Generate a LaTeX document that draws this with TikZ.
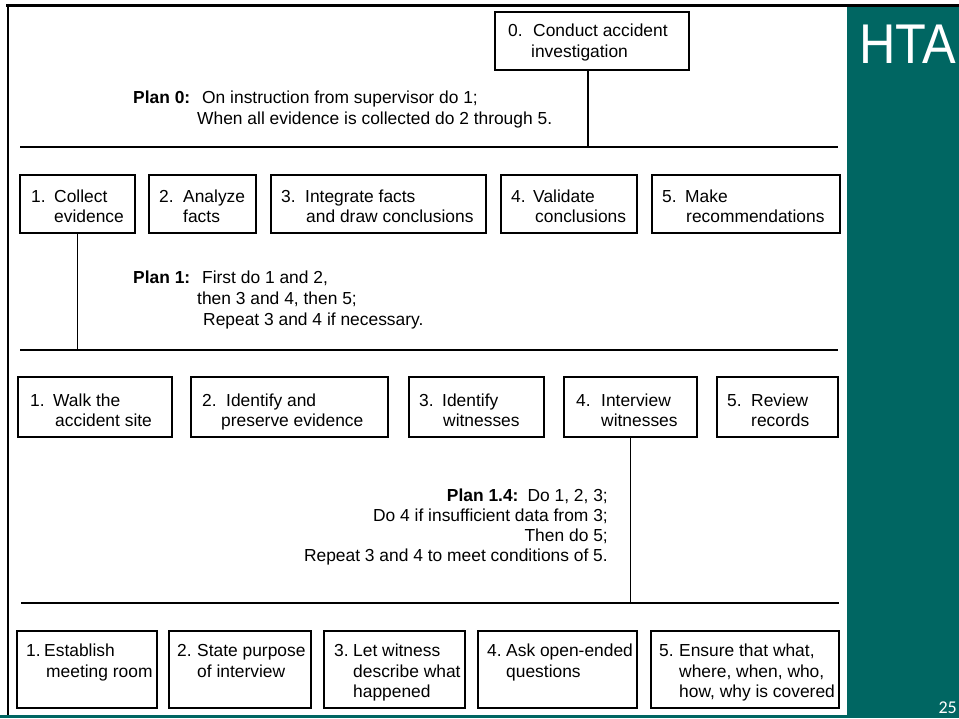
\documentclass[tikz,border=0pt]{standalone}
\usepackage{fontspec}
\usepackage{graphicx}
\setmainfont{Liberation Sans}
\newfontfamily\numfont{Carlito}
\usetikzlibrary{fit}
\definecolor{slideteal}{RGB}{0,102,98}
\newcommand\tl[4]{\node[tx] (#1) at (#2,#3) {#4};}
\begin{document}
\begin{tikzpicture}[x=1pt,y=-1pt,
  bx/.style={draw, line width=1.7pt, inner sep=0pt},
  bar/.style={line width=2.3pt},
  stem/.style={line width=1.4pt},
  tx/.style={inner sep=0pt, anchor=base west, font=\fontsize{17.4}{21}\selectfont},
  txr/.style={inner sep=0pt, anchor=base east, font=\fontsize{17.4}{21}\selectfont}]
\useasboundingbox (0,0) rectangle (959,718);
\fill[white] (0,0) rectangle (959,718);
% slide sidebar
\fill[slideteal] (847,7) rectangle (959,718);
\fill[slideteal] (0,715) rectangle (959,718);
\draw[line width=2.6pt] (6,5.5) -- (959,5.5);
\draw[line width=2pt] (7.5,5) -- (7.5,715);
\node[inner sep=0pt, anchor=base west, text=white, font=\fontsize{56}{60}\selectfont] (hta) at (859,63) {\scalebox{0.9}[1]{HTA}};
\node[inner sep=0pt, anchor=base east, text=white, font=\numfont\fontsize{18}{20}\selectfont] (pg) at (957,713) {25};

% ---------- level 0 ----------
\coordinate (c0a) at (495,12); \coordinate (c0b) at (689,70);
\node[bx, fit=(c0a)(c0b)] (b0) {};
\tl{b0n}{508}{36.5}{0.}
\tl{b0a}{533}{36.5}{Conduct accident}
\tl{b0b}{531}{57}{investigation}

\tl{p0h}{133}{103.5}{\textbf{Plan 0:}}
\tl{p0a}{202}{103.5}{On instruction from supervisor do 1;}
\tl{p0b}{197}{124.5}{When all evidence is collected do 2 through 5.}

\coordinate (h1L) at (20,147); \coordinate (h1R) at (838,147);
\coordinate (v0) at (588,147);
\draw[bar] (h1L) -- (h1R);
\draw[stem] (v0 |- b0.south) -- (v0);

% ---------- level 1 ----------
\coordinate (c11a) at (20,175);  \coordinate (c11b) at (135,233);
\coordinate (c12a) at (149,175); \coordinate (c12b) at (256,233);
\coordinate (c13a) at (271,175); \coordinate (c13b) at (486,233);
\coordinate (c14a) at (501,175); \coordinate (c14b) at (637,233);
\coordinate (c15a) at (652,175); \coordinate (c15b) at (840,233);
\node[bx, fit=(c11a)(c11b)] (b11) {};
\node[bx, fit=(c12a)(c12b)] (b12) {};
\node[bx, fit=(c13a)(c13b)] (b13) {};
\node[bx, fit=(c14a)(c14b)] (b14) {};
\node[bx, fit=(c15a)(c15b)] (b15) {};
\tl{b11n}{31}{202}{1.}   \tl{b11a}{54}{202}{Collect}   \tl{b11b}{54}{222}{evidence}
\tl{b12n}{159}{202}{2.}  \tl{b12a}{183}{202}{Analyze}  \tl{b12b}{183}{222}{facts}
\tl{b13n}{281}{202}{3.}  \tl{b13a}{305}{202}{Integrate facts} \tl{b13b}{306}{222}{and draw conclusions}
\tl{b14n}{511}{202}{4.}  \tl{b14a}{533}{202}{Validate} \tl{b14b}{535}{222}{conclusions}
\tl{b15n}{662}{202}{5.}  \tl{b15a}{685}{202}{Make}     \tl{b15b}{686}{222}{recommendations}

\tl{p1h}{133}{283.5}{\textbf{Plan 1:}}
\tl{p1a}{202}{283.5}{First do 1 and 2,}
\tl{p1b}{197}{304.5}{then 3 and 4, then 5;}
\tl{p1c}{203}{325.5}{Repeat 3 and 4 if necessary.}

\coordinate (h2L) at (20,350); \coordinate (h2R) at (838,350);
\draw[bar] (h2L) -- (h2R);
\draw[stem] (b11.south) -- (b11.south |- h2L);

% ---------- children of 1 ----------
\coordinate (c21a) at (18,377);  \coordinate (c21b) at (172,437);
\coordinate (c22a) at (191,377); \coordinate (c22b) at (388,437);
\coordinate (c23a) at (409,377); \coordinate (c23b) at (544,437);
\coordinate (c24a) at (564,377); \coordinate (c24b) at (697,437);
\coordinate (c25a) at (717,377); \coordinate (c25b) at (838,437);
\node[bx, fit=(c21a)(c21b)] (b21) {};
\node[bx, fit=(c22a)(c22b)] (b22) {};
\node[bx, fit=(c23a)(c23b)] (b23) {};
\node[bx, fit=(c24a)(c24b)] (b24) {};
\node[bx, fit=(c25a)(c25b)] (b25) {};
\tl{b21n}{30}{406}{1.}  \tl{b21a}{53}{406}{Walk the}     \tl{b21b}{55}{426}{accident site}
\tl{b22n}{202}{406}{2.} \tl{b22a}{226}{406}{Identify and} \tl{b22b}{221}{426}{preserve evidence}
\tl{b23n}{419}{406}{3.} \tl{b23a}{442}{406}{Identify}     \tl{b23b}{443}{426}{witnesses}
\tl{b24n}{576}{406}{4.} \tl{b24a}{601}{406}{Interview}    \tl{b24b}{601}{426}{witnesses}
\tl{b25n}{727}{406}{5.} \tl{b25a}{751}{406}{Review}       \tl{b25b}{751}{426}{records}

\node[txr] (p14a) at (608,501.5) {\textbf{Plan 1.4:}\hspace{9pt}Do 1, 2, 3;};
\node[txr] (p14b) at (608,521.5) {Do 4 if insufficient data from 3;};
\node[txr] (p14c) at (608,541) {Then do 5;};
\node[txr] (p14d) at (608,561) {Repeat 3 and 4 to meet conditions of 5.};

\coordinate (h3L) at (21,603); \coordinate (h3R) at (839,603);
\draw[bar] (h3L) -- (h3R);
\draw[stem] (b24.south) -- (b24.south |- h3L);

% ---------- children of 1.4 ----------
\coordinate (c31a) at (17,631);  \coordinate (c31b) at (157,708);
\coordinate (c32a) at (169,631); \coordinate (c32b) at (311,708);
\coordinate (c33a) at (324,631); \coordinate (c33b) at (465,708);
\coordinate (c34a) at (478,631); \coordinate (c34b) at (637,708);
\coordinate (c35a) at (651,631); \coordinate (c35b) at (839,708);
\node[bx, fit=(c31a)(c31b)] (b31) {};
\node[bx, fit=(c32a)(c32b)] (b32) {};
\node[bx, fit=(c33a)(c33b)] (b33) {};
\node[bx, fit=(c34a)(c34b)] (b34) {};
\node[bx, fit=(c35a)(c35b)] (b35) {};
\tl{b31n}{26}{656.5}{1.}  \tl{b31a}{44}{656.5}{Establish}      \tl{b31b}{46}{677}{meeting room}
\tl{b32n}{177}{656.5}{2.} \tl{b32a}{197}{656.5}{State purpose}  \tl{b32b}{197}{677}{of interview}
\tl{b33n}{334}{656.5}{3.} \tl{b33a}{353}{656.5}{Let witness}    \tl{b33b}{353}{677}{describe what} \tl{b33c}{353}{697}{happened}
\tl{b34n}{487}{656.5}{4.} \tl{b34a}{506}{656.5}{Ask open-ended} \tl{b34b}{506}{677}{questions}
\tl{b35n}{659}{656.5}{5.} \tl{b35a}{679}{656.5}{Ensure that what,} \tl{b35b}{679}{677}{where, when, who,} \tl{b35c}{679}{697}{how, why is covered}
\end{tikzpicture}
\end{document}
